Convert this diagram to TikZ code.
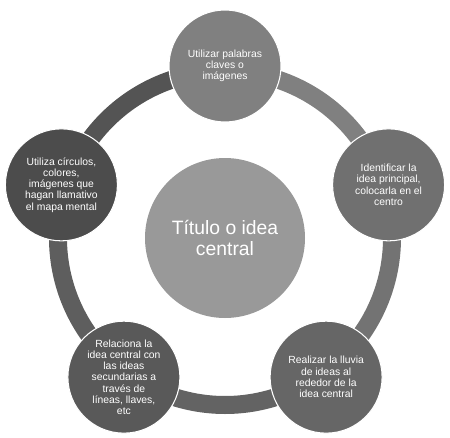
\documentclass[tikz,border=0pt]{standalone}
\usepackage{fontspec}
\setmainfont{Liberation Sans}
\usepackage{xcolor}

\begin{document}
\begin{tikzpicture}[
	sat/.style={circle, draw=white, line width=0.6pt, minimum size=2.24cm, inner sep=0pt, align=center, text=white, font=\fontsize{5.9}{6.4}\selectfont},
	hub/.style={circle, fill=black!40, minimum size=3.2cm, inner sep=0pt, align=center, text=white, font=\fontsize{11}{12}\selectfont},
	ring/.style={line width=0.36cm}
	]
	\useasboundingbox (0,0) rectangle (9,-8.74);
	\coordinate (o) at (4.5,-4.76);
	
	
	\draw[ring, black!50] (o) ++(90:3.34) arc (90:18:3.34);
	\draw[ring, black!55] (o) ++(18:3.34) arc (18:-54:3.34);
	\draw[ring, black!61] (o) ++(-54:3.34) arc (-54:-126:3.34);
	\draw[ring, black!63] (o) ++(-126:3.34) arc (-126:-198:3.34);
	\draw[ring, black!67] (o) ++(162:3.34) arc (162:90:3.34);
	
	
	\node[hub] (titulo) at (o) {Título o idea\\central};
	
	
	\node[sat, fill=black!50] (claves) at (4.5,-1.32) {Utilizar palabras\\claves o\\imágenes};
	\node[sat, fill=black!56] (principal) at (7.772,-3.697) {Identificar la\\idea principal,\\colocarla en el\\centro};
	\node[sat, fill=black!60] (lluvia) at (6.522,-7.543) {Realizar la lluvia\\de ideas al\\rededor de la\\idea central};
	\node[sat, fill=black!65] (relaciona) at (2.478,-7.543) {Relaciona la\\idea central con\\las ideas\\secundarias a\\través de\\líneas, llaves,\\etc};
	\node[sat, fill=black!70] (circulos) at (1.228,-3.697) {Utiliza círculos,\\colores,\\imágenes que\\hagan llamativo\\el mapa mental};
\end{tikzpicture}
\end{document}
